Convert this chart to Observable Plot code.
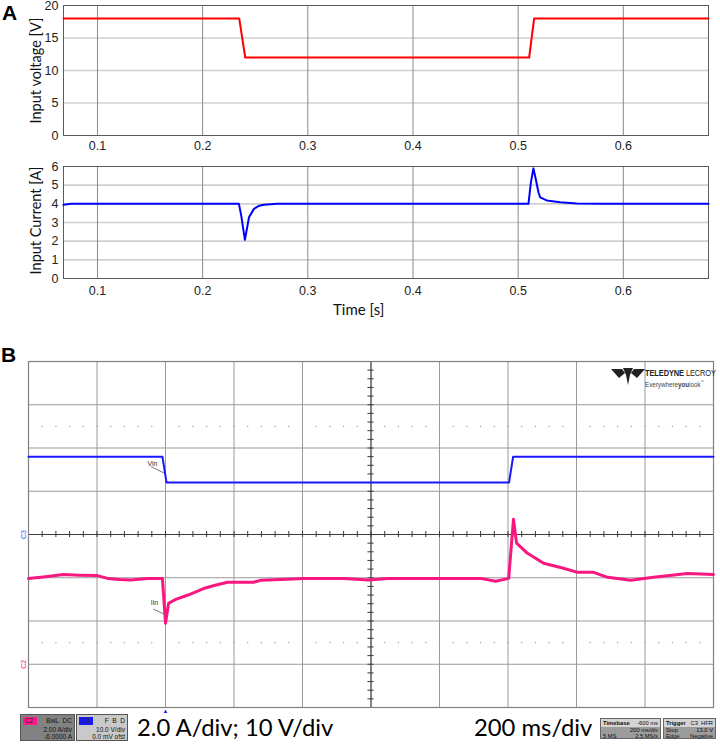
<!DOCTYPE html>
<html>
<head>
<meta charset="utf-8">
<script src="https://cdn.jsdelivr.net/npm/d3@7"></script>
<script src="https://cdn.jsdelivr.net/npm/@observablehq/plot@0.6"></script>
<style>
  html, body { margin:0; padding:0; background:#fff; }
  #root { position:relative; width:720px; height:745px; overflow:hidden; font-family:"Liberation Sans", Arial, sans-serif; }
  .panel { position:absolute; font-family:"Liberation Sans", Arial, sans-serif; font-weight:bold; font-size:21px; color:#000; }
  .ylab { position:absolute; font-family:Lato, "Open Sans", sans-serif; font-size:14.5px; color:#111; white-space:nowrap; transform-origin:center center; }
  .big { position:absolute; font-family:Lato, "Open Sans", sans-serif; font-size:23.8px; line-height:1; color:#000; white-space:nowrap; }
  .chbox { position:absolute; border:1px solid #555; box-sizing:border-box; font-size:6.5px; line-height:7px; color:#111; }
  .chbox .tag { position:absolute; left:2px; top:2px; width:14px; height:8px; line-height:8px; text-align:left; padding-left:2px; box-sizing:border-box; color:#222; }
  .chbox .r { position:absolute; right:2px; text-align:right; white-space:nowrap; }
  .info { position:absolute; border:1px solid #666; box-sizing:border-box; background:#9c9c9c; font-size:5.8px; line-height:6px; color:#111; }
  .info .hd { position:absolute; left:0; right:0; top:0; height:8px; background:#d4d4d4; }
  .info span { position:absolute; white-space:nowrap; }
  svg { position:absolute; }
</style>
</head>
<body>
<div id="root"></div>
<script>
// ---------------- Panel A: simulation ----------------
const simTicksX = [0.1, 0.2, 0.3, 0.4, 0.5, 0.6];
const simVoltTicks = [0, 5, 10, 15, 20];
const simCurrTicks = [0, 1, 2, 3, 4, 5, 6];

const simVoltTime  = [0.0677, 0.2348, 0.2405, 0.5105, 0.5152, 0.681];
const simVoltValue = [18, 18, 12, 12, 18, 18];

const simCurrTime  = [0.0677, 0.075, 0.2345, 0.2367, 0.2402, 0.2418, 0.2441, 0.2488, 0.2530, 0.2583, 0.271,
                      0.5098, 0.5120, 0.5145, 0.5165, 0.5193, 0.5209, 0.5272, 0.540, 0.5557, 0.58, 0.681];
const simCurrValue = [3.95, 4.0, 4.0, 3.37, 2.07, 2.57, 3.28, 3.73, 3.88, 3.95, 4.0,
                      4.0, 5.1, 5.9, 5.4, 4.62, 4.35, 4.18, 4.09, 4.02, 4.0, 4.0];

// ---------------- Panel B: oscilloscope ----------------
const scopeGridTimeMs = [0, 200, 400, 600, 800, 1000, 1200, 1400, 1600, 1800, 2000];
const scopeGridDiv = [-4, -3, -2, -1, 0, 1, 2, 3, 4];
const ampsPerDiv = 2.0, currentOffsetA = -6.0;
const voltsPerDiv = 10.0, voltOffsetV = 0.0;
const triggerTimeMs = [400];

const scopeVinTime = [0, 391, 403, 1403, 1415, 2000];
const scopeVin     = [18, 18, 12, 12, 18, 18];

const scopeIinTime = [0, 50, 102, 150, 201, 231, 265, 298, 347, 391, 400, 409, 430, 464, 511, 545, 581, 657, 677, 756, 803,
                      920, 993, 1048, 1194, 1320, 1364, 1402, 1416, 1425, 1457, 1504, 1562, 1603, 1650, 1691, 1758, 1825, 1924, 2000];
const scopeIin     = [3.97, 4.05, 4.15, 4.12, 4.1, 3.97, 3.92, 3.9, 3.97, 3.97, 1.9, 2.82, 3.0, 3.19, 3.5, 3.65, 3.79, 3.79, 3.88, 3.93, 3.97,
                      3.97, 3.9, 3.97, 3.97, 3.97, 3.84, 3.97, 6.7, 5.6, 5.13, 4.67, 4.44, 4.25, 4.25, 4.02, 3.88, 4.02, 4.2, 4.15];

const vinLabel = {t: 362, v: 16.3, target_t: 396, target_v: 14.2, text: "Vin"};
const iinLabel = {t: 368, i: 2.85, target_t: 399, i2: 2.3, text: "Iin"};

// ---------------- build ----------------
const root = document.getElementById("root");
const simV = simVoltTime.map((t, k) => ({t, v: simVoltValue[k]}));
const simI = simCurrTime.map((t, k) => ({t, i: simCurrValue[k]}));
const scV = scopeVinTime.map((t, k) => ({t, d: (scopeVin[k] + voltOffsetV) / voltsPerDiv}));
const scI = scopeIinTime.map((t, k) => ({t, d: (scopeIin[k] + currentOffsetA) / ampsPerDiv}));

function place(el, top, left) {
  el.style.position = "absolute";
  el.style.top = top + "px";
  el.style.left = left + "px";
  root.appendChild(el);
}

const axisStyle = {fontFamily: "'Liberation Sans', Arial, sans-serif", fontSize: "12.5px", background: "transparent", overflow: "visible", color: "#222"};

function simPlot(data, yKey, yTicks, yDomain, color, height, mt, mb, padX) {
  return Plot.plot({
    width: 720, height, marginLeft: 63, marginRight: 12, marginTop: mt, marginBottom: mb,
    style: axisStyle,
    x: {domain: [0.0677, 0.681]},
    y: {domain: yDomain},
    marks: [
      Plot.ruleY(yTicks.slice(1, -1), {stroke: "#cfcfcf", strokeWidth: 1.6}),
      Plot.ruleX(simTicksX, {stroke: "#8a8a8a", strokeWidth: 1}),
      Plot.frame({stroke: "#5a5a5a", strokeWidth: 1}),
      Plot.line(data, {x: "t", y: yKey, stroke: color, strokeWidth: 2}),
      Plot.axisX(simTicksX, {tickSize: 0, tickPadding: padX, tickFormat: d => d.toFixed(1), label: null}),
      Plot.axisY(yTicks, {tickSize: 0, tickPadding: 5, label: null})
    ]
  });
}

place(simPlot(simV, "v", simVoltTicks, [0, 20], "#ff0000", 160, 5, 25, 6), 0, 0);
place(simPlot(simI, "i", simCurrTicks, [0, 6], "#0000ff", 150, 16, 22, 8), 150, 0);

function addDiv(cls, html, top, left, extra) {
  const d = document.createElement("div");
  d.className = cls;
  d.innerHTML = html;
  d.style.top = top + "px";
  d.style.left = left + "px";
  if (extra) Object.assign(d.style, extra);
  root.appendChild(d);
  return d;
}

addDiv("panel", "A", 1, 2);
addDiv("panel", "B", 343, 1);
addDiv("ylab", "Input voltage [V]", 62, -21, {transform: "rotate(-90deg)", width: "112px", textAlign: "center"});
addDiv("ylab", "Input Current [A]", 212, -21, {transform: "rotate(-90deg)", width: "112px", textAlign: "center"});
addDiv("ylab", "Time [s]", 300, 333, {fontSize: "15px"});

// oscilloscope
const minorX = d3.range(0, 2001, 40);
const minorY = d3.range(-4, 4.001, 0.2);
const dotRowsDiv = [2.5, -2.5];
const dotGrid = dotRowsDiv.flatMap(y => minorX.map(x => ({x, y})));

const scope = Plot.plot({
  width: 720, height: 368, marginLeft: 28, marginRight: 7, marginTop: 11, marginBottom: 11,
  style: {background: "transparent", overflow: "visible", fontFamily: "'Liberation Sans', Arial, sans-serif"},
  x: {domain: [0, 2000], axis: null},
  y: {domain: [-4, 4], axis: null},
  marks: [
    Plot.ruleX(scopeGridTimeMs, {stroke: "#9a9a9a", strokeWidth: 1}),
    Plot.ruleY(scopeGridDiv, {stroke: "#9a9a9a", strokeWidth: 1}),
    Plot.dot(dotGrid, {x: "x", y: "y", r: 0.7, fill: "#9a9a9a"}),
    Plot.ruleY([0], {stroke: "#3a3a3a", strokeWidth: 1}),
    Plot.ruleX([1000], {stroke: "#3a3a3a", strokeWidth: 1}),
    Plot.ruleX(minorX, {x: d => d, y1: () => -0.07, y2: () => 0.07, stroke: "#3a3a3a"}),
    Plot.ruleY(minorY, {y: d => d, x1: () => 991, x2: () => 1009, stroke: "#3a3a3a"}),
    Plot.frame({stroke: "#808080", strokeWidth: 1.2}),
    Plot.line(scV, {x: "t", y: "d", stroke: "#1818ff", strokeWidth: 2}),
    Plot.line(scI, {x: "t", y: "d", stroke: "#f8177f", strokeWidth: 3}),
    // annotations
    Plot.link([vinLabel], {x1: d => d.t - 4, y1: d => (d.v - 0.6 + voltOffsetV) / voltsPerDiv, x2: "target_t", y2: d => (d.target_v + voltOffsetV) / voltsPerDiv, stroke: "#555", strokeWidth: 0.8}),
    Plot.text([vinLabel], {x: "t", y: d => (d.v + voltOffsetV) / voltsPerDiv, text: "text", fontSize: 7, fill: "#333"}),
    Plot.link([iinLabel], {x1: d => d.t - 4, y1: d => (d.i - 0.3 + currentOffsetA) / ampsPerDiv, x2: "target_t", y2: d => (d.i2 + currentOffsetA) / ampsPerDiv, stroke: "#555", strokeWidth: 0.8}),
    Plot.text([iinLabel], {x: "t", y: d => (d.i + currentOffsetA) / ampsPerDiv, text: "text", fontSize: 7, fill: "#333"}),
    // channel ground markers
    Plot.text([0], {x: () => 0, y: () => (0 + voltOffsetV) / voltsPerDiv, dx: -5, text: () => "C3", rotate: -90, fontSize: 7, fill: "#3050ff"}),
    Plot.text([0], {x: () => 0, y: () => (0 + currentOffsetA) / ampsPerDiv, dx: -5, text: () => "C2", rotate: -90, fontSize: 7, fill: "#f8177f"}),
    // trigger marker
    Plot.text(triggerTimeMs, {x: d => d, y: () => -4, dy: 4, text: () => "▲", fontSize: 6, fill: "#1818ff"})
  ]
});
place(scope, 350, 0);

// logo
const logo = document.createElement("div");
logo.innerHTML = `
<svg width="34" height="18" viewBox="0 0 34 18" style="position:absolute;left:0;top:0">
  <polygon points="0,1 11,1 14,5 8,10" fill="#222"/>
  <polygon points="12,0 22,0 19,7 17,17 15,7" fill="#222"/>
  <polygon points="34,1 23,1 20,5 26,10" fill="#222"/>
</svg>
<div style="position:absolute;left:34px;top:0;white-space:nowrap;font-size:9.5px;line-height:10px;color:#222;transform:scaleX(0.78);transform-origin:left top;letter-spacing:-0.1px"><b>TELEDYNE</b> LECROY</div>
<div style="position:absolute;left:34px;top:9px;white-space:nowrap;font-size:8px;line-height:9px;color:#444;transform:scaleX(0.78);transform-origin:left top;">Everywhere<b>you</b>look<sup style="font-size:4px">™</sup></div>`;
logo.style.position = "absolute";
logo.style.left = "611px";
logo.style.top = "368px";
logo.style.width = "100px";
logo.style.height = "20px";
root.appendChild(logo);

// channel boxes
addDiv("chbox", `<div class="tag" style="background:#ff1a8c">C2</div>
  <div class="r" style="top:2px">BwL&nbsp; DC</div>
  <div class="r" style="top:11px">2.00 A/div</div>
  <div class="r" style="top:18px">-6.0000 A</div>`, 714, 20, {width: "55px", height: "27px", background: "#828282"});
addDiv("chbox", `<div class="tag" style="background:#1a1aff">C3</div>
  <div class="r" style="top:2px">F&nbsp; B&nbsp; D</div>
  <div class="r" style="top:11px">10.0 V/div</div>
  <div class="r" style="top:18px">0.0 mV ofst</div>`, 714, 76, {width: "52px", height: "27px", background: "#c9c9c9"});

addDiv("big", "2.0 A/div; 10 V/div", 716, 137);
addDiv("big", "200 ms/div", 716, 474);

addDiv("info", `<div class="hd"></div>
  <span style="left:2px;top:1px;font-weight:bold">Timebase</span>
  <span style="right:2px;top:1px">-600 ms</span>
  <span style="right:2px;top:8px">200 ms/div</span>
  <span style="left:2px;top:14px">5 MS</span>
  <span style="right:2px;top:14px">2.5 MS/s</span>`, 718, 600, {width: "61px", height: "21px"});
addDiv("info", `<div class="hd"></div>
  <span style="left:2px;top:1px;font-weight:bold">Trigger</span>
  <span style="right:2px;top:1px">C3&nbsp; HFR</span>
  <span style="left:2px;top:8px">Stop</span>
  <span style="right:2px;top:8px">13.0 V</span>
  <span style="left:2px;top:14px">Edge</span>
  <span style="right:2px;top:14px">Negative</span>`, 718, 663, {width: "53px", height: "21px"});
</script>
</body>
</html>
